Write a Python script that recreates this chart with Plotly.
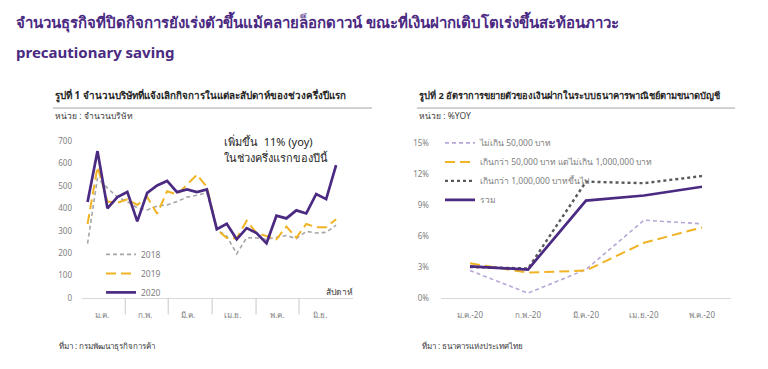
import plotly.graph_objects as go

# ---------------- data ----------------
weeks = list(range(1, 27))
closed_2018 = [243, 535, 490, 450, 430, 402, 393, 410, 415, 430, 450, 458, 470,
               305, 276, 197, 269, 268, 262, 269, 279, 265, 297, 290, 293, 325]
closed_2019 = [330, 585, 430, 425, 440, 415, 450, 376, 476, 462, 505, 550, 495,
               305, 268, 266, 345, 290, 276, 262, 319, 269, 330, 316, 316, 351]
closed_2020 = [428, 655, 400, 450, 473, 342, 469, 502, 522, 472, 484, 472, 484,
               307, 331, 262, 312, 290, 244, 367, 355, 391, 377, 464, 441, 592]
month_labels_1 = ["ม.ค.", "ก.พ.", "มี.ค.", "เม.ย.", "พ.ค.", "มิ.ย."]
month_centers_1 = [2.45, 6.8, 11.1, 15.6, 20.1, 24.4]
month_bounds_1 = [4.79, 9.11, 13.53, 17.95, 22.27]
yticks_1 = [0, 100, 200, 300, 400, 500, 600, 700]

months_2 = ["ม.ค.-20", "ก.พ.-20", "มี.ค.-20", "เม.ย.-20", "พ.ค.-20"]
dep_small = [2.65, 0.45, 2.75, 7.55, 7.2]
dep_medium = [3.35, 2.45, 2.65, 5.35, 6.85]
dep_large = [3.0, 2.85, 11.3, 11.15, 11.85]
dep_total = [3.05, 2.75, 9.45, 9.95, 10.8]
yticks_2 = [0, 3, 6, 9, 12, 15]
yticktext_2 = ["0%", "3%", "6%", "9%", "12%", "15%"]

PURPLE = "#4B2A82"
GOLD = "#F0B323"
GREY = "#A6A6A6"
LAV = "#B7A6D6"
DOT = "#595959"
TXT = "#262626"
TICK = "#808080"
SEP = "#C9C9C9"
FONT = "Noto Sans, Open Sans, sans-serif"

# page has an 8px body margin; figure is sized to fill the rest of the window
OFF = 8
WIN_W, WIN_H = 768, 369
W, H = WIN_W - OFF, WIN_H - OFF
def px(x):
    return (x - OFF) / W
def py(y):
    return (WIN_H - y) / H

XRANGE_1 = [0.44, 27.7]

fig = go.Figure()

# ---------------- chart 1 ----------------
fig.add_trace(go.Scatter(x=weeks, y=closed_2018, name="2018", mode="lines",
                         line=dict(color=GREY, width=1.6, dash="4px,3px"),
                         xaxis="x", yaxis="y", legend="legend"))
fig.add_trace(go.Scatter(x=weeks, y=closed_2019, name="2019", mode="lines",
                         line=dict(color=GOLD, width=2, dash="10px,5px"),
                         xaxis="x", yaxis="y", legend="legend"))
fig.add_trace(go.Scatter(x=weeks, y=closed_2020, name="2020", mode="lines",
                         line=dict(color=PURPLE, width=2.7),
                         xaxis="x", yaxis="y", legend="legend"))

# ---------------- chart 2 ----------------
fig.add_trace(go.Scatter(x=months_2, y=dep_small, name="ไม่เกิน 50,000 บาท", mode="lines",
                         line=dict(color=LAV, width=1.6, dash="4px,3px"),
                         xaxis="x2", yaxis="y2", legend="legend2"))
fig.add_trace(go.Scatter(x=months_2, y=dep_medium,
                         name="เกินกว่า 50,000 บาท แต่ไม่เกิน 1,000,000 บาท", mode="lines",
                         line=dict(color=GOLD, width=2, dash="10px,5px"),
                         xaxis="x2", yaxis="y2", legend="legend2"))
fig.add_trace(go.Scatter(x=months_2, y=dep_large, name="เกินกว่า 1,000,000 บาทขึ้นไป",
                         mode="lines", line=dict(color=DOT, width=2.4, dash="dot"),
                         xaxis="x2", yaxis="y2", legend="legend2"))
fig.add_trace(go.Scatter(x=months_2, y=dep_total, name="รวม", mode="lines",
                         line=dict(color=PURPLE, width=2.7),
                         xaxis="x2", yaxis="y2", legend="legend2"))

axis_font = dict(family=FONT, size=8, color=TICK)

fig.update_layout(
    width=W, height=H,
    margin=dict(l=0, r=0, t=0, b=0),
    paper_bgcolor="white", plot_bgcolor="white",
    font=dict(family=FONT, color=TXT),
    xaxis=dict(domain=[px(82), px(353)], range=XRANGE_1,
               tickmode="array", tickvals=month_centers_1, ticktext=month_labels_1,
               ticks="", ticklabelstandoff=9, tickfont=axis_font,
               showgrid=False, zeroline=False, showline=True, linecolor="#D9D9D9",
               linewidth=1),
    yaxis=dict(domain=[py(301), py(139)], range=[0, 700], tickmode="array",
               tickvals=yticks_1,
               tickfont=axis_font, showgrid=False, zeroline=False, showline=False,
               ticks="", ticklabelstandoff=9),
    xaxis2=dict(domain=[px(441), px(731)], range=[-0.5, 4.5], type="category",
                ticks="", ticklabelstandoff=9, tickfont=axis_font,
                showgrid=False, zeroline=False, showline=True, linecolor="#D9D9D9",
                linewidth=1),
    yaxis2=dict(domain=[py(300.7), py(141.7)], range=[0, 15], tickmode="array",
                tickvals=yticks_2, ticktext=yticktext_2, anchor="x2",
                tickfont=axis_font, showgrid=False, zeroline=False, showline=False,
                ticks="", ticklabelstandoff=11),
    legend=dict(x=px(101), y=py(241), xanchor="left", yanchor="top",
                bgcolor="rgba(0,0,0,0)", font=dict(family=FONT, size=8.5, color=TICK),
                tracegroupgap=0),
    legend2=dict(x=px(440), y=py(126), xanchor="left", yanchor="top",
                 bgcolor="rgba(0,0,0,0)", font=dict(family=FONT, size=8.5, color=TICK),
                 tracegroupgap=0),
    showlegend=True,
)

# month separators below the first chart's axis (x in data units, y in paper units)
for b in month_bounds_1:
    fig.add_shape(type="line", xref="x", yref="paper", x0=b, x1=b,
                  y0=py(318), y1=py(301), line=dict(color=SEP, width=1))

def text(x, y, s, size, color=TXT, bold=False, anchor="left"):
    if bold:
        s = "<b>" + s + "</b>"
    fig.add_annotation(x=px(x), y=py(y), xref="paper", yref="paper", text=s,
                       showarrow=False, xanchor=anchor, yanchor="middle",
                       font=dict(family=FONT, size=size, color=color))

# titles
text(14, 16, "จำนวนธุรกิจที่ปิดกิจการยังเร่งตัวขึ้นแม้คลายล็อกดาวน์ ขณะที่เงินฝากเติบโตเร่งขึ้นสะท้อนภาวะ",
     15, PURPLE, bold=True)
text(14, 47, "precautionary saving", 15, PURPLE, bold=True)

# chart headers
text(53, 92, "รูปที่ 1 จำนวนบริษัทที่แจ้งเลิกกิจการในแต่ละสัปดาห์ของช่วงครึ่งปีแรก", 9.8, TXT, bold=True)
text(417, 92, "รูปที่ 2 อัตราการขยายตัวของเงินฝากในระบบธนาคารพาณิชย์ตามขนาดบัญชี", 9.3, TXT, bold=True)
for x0, x1 in [(53, 372), (417, 735)]:
    fig.add_shape(type="line", xref="paper", yref="paper", x0=px(x0), x1=px(x1),
                  y0=py(105), y1=py(105), line=dict(color="#A6A6A6", width=1))

text(53, 113, "หน่วย : จำนวนบริษัท", 8.5, "#404040")
text(417, 113, "หน่วย : %YOY", 8.5, "#404040")

# callout
text(222, 140, "เพิ่มขึ้น  11% (yoy)", 11, TXT)
text(222, 156, "ในช่วงครึ่งแรกของปีนี้", 11, TXT)

text(355, 294, "สัปดาห์", 8.5, "#404040", anchor="right")

# sources
text(57, 350, "ที่มา : กรมพัฒนาธุรกิจการค้า", 8, "#404040")
text(420, 350, "ที่มา : ธนาคารแห่งประเทศไทย", 8, "#404040")

fig.write_html("out.html")
